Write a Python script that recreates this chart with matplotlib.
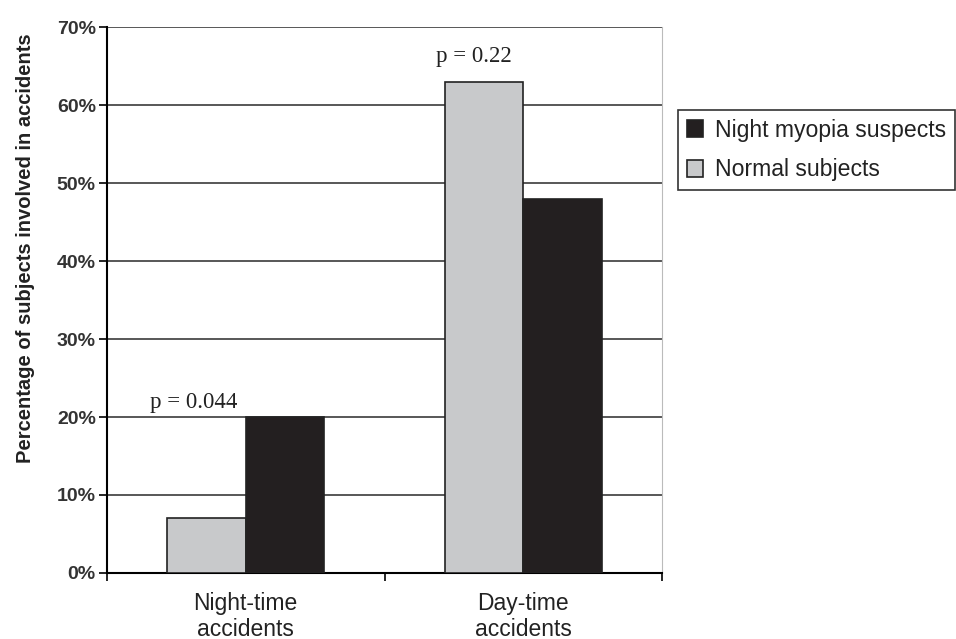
import matplotlib
matplotlib.use("Agg")
import matplotlib.pyplot as plt
import numpy as np
from matplotlib.ticker import FixedLocator, PercentFormatter

categories = ["Night-time\naccidents", "Day-time\naccidents"]
normal_subjects = [7, 63]
night_myopia = [20, 48]
p_labels = ["p = 0.044", "p = 0.22"]
y_ticks = [0, 10, 20, 30, 40, 50, 60, 70]

plt.rcParams['font.family'] = ['Liberation Sans', 'DejaVu Sans']

fig = plt.figure(figsize=(9.56, 6.39), dpi=100)
ax = fig.add_axes([0.1119, 0.1033, 0.5806, 0.8544])

x = np.arange(len(categories))
w = 0.283
light = "#c8c9cb"
dark = "#231f20"

ax.set_axisbelow(True)
ax.yaxis.grid(True, color="#2a2a2a", linewidth=1.1)
b_norm = ax.bar(x - w / 2, normal_subjects, w, color=light, edgecolor="#222222", linewidth=1.2,
                label="Normal subjects", zorder=3)
b_my = ax.bar(x + w / 2, night_myopia, w, color=dark, edgecolor="#222222", linewidth=1.2,
              label="Night myopia suspects", zorder=3)

ax.set_xlim(-0.5, 1.5)
ax.set_ylim(0, 70)
ax.set_yticks(y_ticks)
ax.yaxis.set_major_formatter(PercentFormatter(decimals=0))
ax.set_xticks(x)
ax.set_xticklabels(categories, fontsize=16.5, color='#222222', linespacing=1.12)
ax.tick_params(axis='x', which='major', length=0, pad=14)
ax.xaxis.set_minor_locator(FixedLocator([-0.5, 0.5, 1.5]))
ax.tick_params(axis='x', which='minor', length=6, width=1.2, direction='out')
ax.tick_params(axis='y', length=6, width=1.2, direction='out', labelsize=14, pad=2)
for lab in ax.get_yticklabels():
    lab.set_fontweight('bold')
    lab.set_color('#333333')

ax.spines['top'].set_visible(False)
ax.spines['right'].set_color('#bbbbbb')
ax.spines['left'].set_linewidth(1.5)
ax.spines['bottom'].set_linewidth(1.5)

ax.set_ylabel("Percentage of subjects involved in accidents", fontsize=14.5,
              fontweight='bold', color='#222222')
ax.yaxis.set_label_coords(-0.13, 0.595)

# p-value annotations
serif = ['Liberation Serif', 'DejaVu Serif']
ax.text(x[0] - w - 0.062, 21.1, p_labels[0], family=serif,
        fontsize=16.5, ha='left', va='baseline', color='#222222')
ax.text(x[1] - w - 0.033, 65.5, p_labels[1], family=serif,
        fontsize=16.5, ha='left', va='baseline', color='#222222')

handles = [b_my, b_norm]
leg = fig.legend(handles, [h.get_label() for h in handles], loc='upper left',
                 bbox_to_anchor=(678 / 956, 1 - 110 / 639), fontsize=16.6,
                 frameon=True, fancybox=False, edgecolor='black', handlelength=0.72,
                 handleheight=0.72, handletextpad=0.5, borderpad=0.38, labelspacing=0.72,
                 borderaxespad=0)
leg.get_frame().set_linewidth(1.2)
for t in leg.get_texts():
    t.set_color('#222222')

fig.savefig("out.png", dpi=100)
